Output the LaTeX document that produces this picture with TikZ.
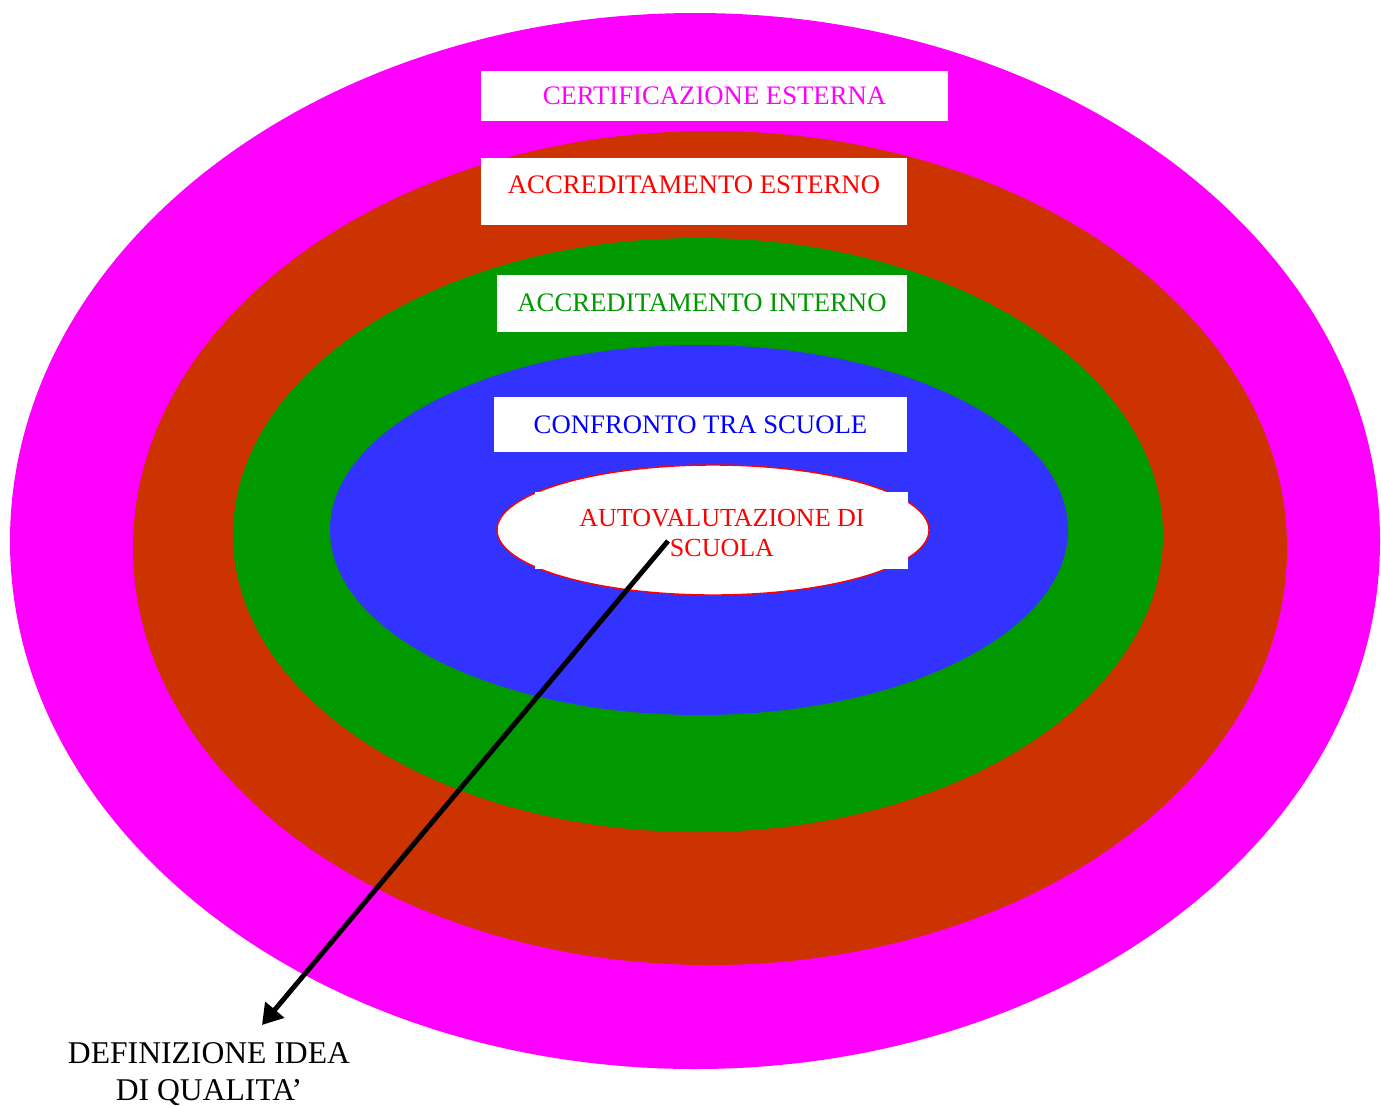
\documentclass[tikz,border=0pt]{standalone}
\usepackage{fontspec}
\setmainfont{Liberation Serif}
\usetikzlibrary{arrows.meta}

\definecolor{ringmagenta}{HTML}{FF00FF}
\definecolor{ringbrown}{HTML}{CC3300}
\definecolor{ringgreen}{HTML}{009900}
\definecolor{ringblue}{HTML}{3333FF}

\begin{document}
\begin{tikzpicture}[x=0.025cm, y=-0.025cm,
    labelbox/.style={rectangle, fill=white, inner sep=0pt, text height=0.44cm, text depth=0pt,
        font=\fontsize{19}{22}\selectfont},
    plaintext/.style={align=center, inner sep=0pt}]
    \useasboundingbox (0,0) rectangle (1381,1106);

    % Rings
    \fill[ringmagenta] (695,541) ellipse [x radius=685, y radius=528];
    \fill[ringbrown] (710,548) ellipse [x radius=577, y radius=417];
    \fill[ringgreen] (698,535) ellipse [x radius=465, y radius=297];
    \fill[ringblue] (699,530) ellipse [x radius=369, y radius=185];
    \filldraw[fill=white, draw=red, line width=1pt] (713,530) ellipse [x radius=216, y radius=65];
    \fill[white] (535,492) rectangle (908,569);

    % Nodes
    \node[labelbox, text=ringmagenta, minimum width=11.675cm, minimum height=1.25cm] (cert) at (714.5,96) {CERTIFICAZIONE ESTERNA};
    \node[labelbox, text=red, minimum width=10.65cm, minimum height=1.675cm, text depth=0.35cm] (accest) at (694,191.5) {ACCREDITAMENTO ESTERNO};
    \node[labelbox, text=ringgreen, minimum width=10.25cm, minimum height=1.425cm, text depth=0.06cm] (accint) at (702,303.5) {ACCREDITAMENTO INTERNO};
    \node[labelbox, text=blue, minimum width=10.325cm, minimum height=1.375cm] (confronto) at (700.5,424.5) {CONFRONTO TRA SCUOLE};
    \node[plaintext, text=red, font=\fontsize{18.5}{22}\selectfont] (autoval) at (722,533) {AUTOVALUTAZIONE DI\\SCUOLA};
    \node[plaintext, font=\fontsize{22.5}{26}\selectfont] (defin) at (209,1074) {DEFINIZIONE IDEA\\DI QUALITA'};
    \coordinate (tail) at (668,541);
    \coordinate (head) at (262,1025);

    % Arrows
    \draw[-{Triangle[length=0.5cm, width=0.6cm]}, line width=3.5pt] (tail) -- (head);
\end{tikzpicture}
\end{document}
